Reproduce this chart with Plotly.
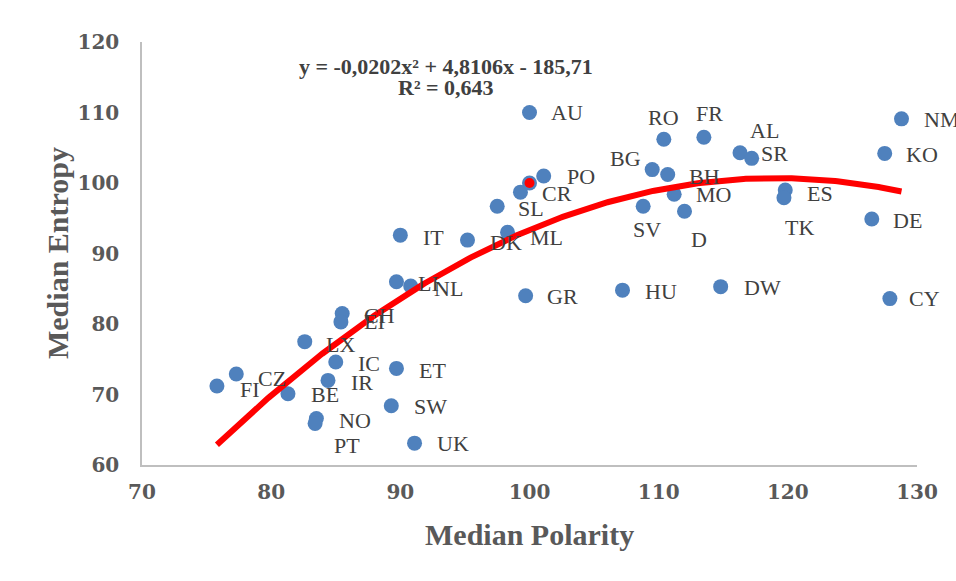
import numpy as np
import plotly.graph_objects as go

# ---- data ----
countries = ["FI", "CZ", "BE", "LX", "IC", "IR", "NO", "PT", "ET", "SW", "UK",
             "CH", "EI", "LI", "NL", "IT", "DK", "ML", "SL", "CR", "PO", "AU",
             "GR", "HU", "DW", "RO", "FR", "BG", "BH", "MO", "SV", "D", "AL",
             "SR", "ES", "TK", "NM", "KO", "DE", "CY"]
polarity = [75.8, 77.3, 81.3, 82.6, 85.0, 84.4, 83.5, 83.4, 89.7, 89.3, 91.1,
            85.5, 85.4, 89.7, 90.8, 90.0, 95.2, 98.3, 97.5, 99.3, 101.1, 100.0,
            99.7, 107.2, 114.8, 110.4, 113.5, 109.5, 110.7, 111.2, 108.8, 112.0, 116.3,
            117.2, 119.8, 119.7, 128.8, 127.5, 126.5, 127.9]
entropy = [71.2, 72.9, 70.1, 77.5, 74.6, 72.0, 66.6, 65.9, 73.7, 68.4, 63.1,
           81.5, 80.3, 86.0, 85.4, 92.6, 91.9, 93.0, 96.7, 98.7, 101.0, 110.0,
           84.0, 84.8, 85.3, 106.2, 106.5, 101.9, 101.2, 98.4, 96.7, 96.0, 104.3,
           103.5, 99.0, 97.9, 109.1, 104.2, 94.9, 83.6]

# unlabeled point highlighted in red
highlight_x = [100.0]
highlight_y = [100.0]

# trendline coefficients (as displayed)
coef_a, coef_b, coef_c = -0.0202, 4.8106, -185.71
equation_line1 = "y = -0,0202x² + 4,8106x - 185,71"
equation_line2 = "R² = 0,643"

x_ticks = [70, 80, 90, 100, 110, 120, 130]
y_ticks = [60, 70, 80, 90, 100, 110, 120]

# label pixel offsets (dx right, dy down)
label_offsets = {
    "FI": (33, 3), "CZ": (36, 4), "BE": (37, 1), "LX": (36, 3), "IC": (33, 1),
    "IR": (34, 2), "NO": (39, 2), "PT": (32, 22), "ET": (36, 2), "SW": (39, 1),
    "UK": (38, 0), "CH": (37, 2), "EI": (34, 0), "LI": (32, 2), "NL": (38, 3),
    "IT": (33, 2), "DK": (38, 2), "ML": (39, 5), "SL": (34, 2), "CR": (37, 1),
    "PO": (37, 1), "AU": (37, 0), "GR": (37, 1), "HU": (38, 1), "DW": (42, 1),
    "RO": (0, -22), "FR": (6, -24), "BG": (-27, -11), "BH": (37, 2), "MO": (39, 0),
    "SV": (4, 23), "D": (14, 28), "AL": (24, -22), "SR": (23, -5), "ES": (35, 3),
    "TK": (16, 30), "NM": (40, 1), "KO": (37, 1), "DE": (36, 2), "CY": (35, 0),
}

BLUE = "#4F81BD"
SERIF = "Liberation Serif"

fig = go.Figure()

fig.add_trace(go.Scatter(
    x=polarity + highlight_x, y=entropy + highlight_y, mode="markers",
    marker=dict(color=BLUE, size=15), hoverinfo="skip", showlegend=False))

tx = np.linspace(min(polarity), max(polarity), 300)
ty = coef_a * tx ** 2 + coef_b * tx + coef_c
fig.add_trace(go.Scatter(x=tx, y=ty, mode="lines",
                         line=dict(color="#FF0000", width=6),
                         hoverinfo="skip", showlegend=False))

fig.add_trace(go.Scatter(
    x=highlight_x, y=highlight_y, mode="markers",
    marker=dict(color="#FF0000", size=10), hoverinfo="skip", showlegend=False))

annotations = []
for c, px, py in zip(countries, polarity, entropy):
    dx, dy = label_offsets[c]
    annotations.append(dict(
        x=px, y=py, xref="x", yref="y", text=c, showarrow=False,
        xshift=dx, yshift=-dy, xanchor="center", yanchor="middle",
        font=dict(family=SERIF, size=22, color="#404040")))

for txt, yy in ((equation_line1, 116.5), (equation_line2, 113.5)):
    annotations.append(dict(
        x=93.5, y=yy, xref="x", yref="y", text=txt, showarrow=False,
        xanchor="center", yanchor="middle",
        font=dict(family=SERIF, size=22, color="#404040", weight="bold")))

annotations.append(dict(
    x=0.5, y=-0.165, xref="paper", yref="paper", text="Median Polarity",
    showarrow=False, xanchor="center", yanchor="middle",
    font=dict(family=SERIF, size=30, color="#595959", weight="bold")))
annotations.append(dict(
    x=-0.109, y=0.5, xref="paper", yref="paper", text="Median Entropy",
    showarrow=False, xanchor="center", yanchor="middle", textangle=-90,
    font=dict(family=SERIF, size=30, color="#595959", weight="bold")))

axis_common = dict(showgrid=False, zeroline=False, showline=True,
                   linecolor="#BFBFBF", linewidth=1.5, ticks="",
                   tickfont=dict(family="DejaVu Serif", size=20, color="#595959", weight="bold"))

fig.update_layout(
    width=956, height=581,
    margin=dict(l=142, r=39, t=42, b=116),
    paper_bgcolor="white", plot_bgcolor="white",
    showlegend=False,
    xaxis=dict(range=[70, 130], tickvals=x_ticks, ticktext=[str(v) for v in x_ticks],
               ticklabelstandoff=8, **axis_common),
    yaxis=dict(range=[60, 120], tickvals=y_ticks, ticktext=[str(v) for v in y_ticks],
               ticklabelstandoff=17, **axis_common),
    annotations=annotations,
)

fig.write_html("out.html")
